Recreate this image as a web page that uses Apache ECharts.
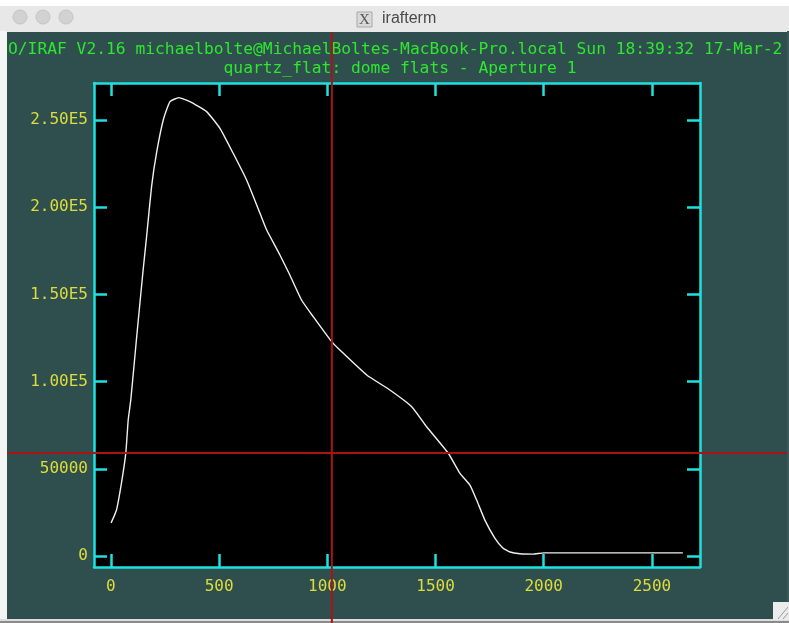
<!DOCTYPE html>
<html>
<head>
<meta charset="utf-8">
<title>irafterm</title>
<script src="https://cdn.jsdelivr.net/npm/echarts@6/dist/echarts.min.js"></script>
<style>
  html, body { margin: 0; padding: 0; background: #ffffff; }
  #chart { width: 789px; height: 623px; }
</style>
</head>
<body>
<div id="chart"></div>
<script>
// Extracted aperture 1 of the quartz dome flat: pixel vs. counts
const pixels = [1, 26, 49, 69, 80, 92, 120, 149, 165, 188, 211, 242, 273, 314, 365, 442,
  504, 565, 627, 689, 720, 781, 827, 881, 935, 1020, 1058, 1182, 1289, 1390, 1459, 1559,
  1613, 1659, 1690, 1728, 1774, 1811, 1844, 1890, 1950, 2000, 2643];
const counts = [19000, 26400, 41900, 59100, 78000, 89500, 126700, 164000, 183100, 211800,
  231100, 250000, 260500, 262800, 260500, 254800, 245200, 230900, 215600, 196500, 186900,
  172600, 161100, 146800, 137200, 122900, 118100, 103800, 95200, 85600, 74100, 58900,
  47400, 40700, 32100, 20600, 10300, 4600, 2300, 1300, 1100, 1800, 1800];

// Axis ticks and their labels
const xTicks = [0, 500, 1000, 1500, 2000, 2500];
const xTickLabels = ['0', '500', '1000', '1500', '2000', '2500'];
const yTicks = [0, 50000, 100000, 150000, 200000, 250000];
const yTickLabels = ['0', '50000', '1.00E5', '1.50E5', '2.00E5', '2.50E5'];

// Plot window limits (autoscaled with margins)
const xLimits = [-78, 2722];
const yLimits = [-6300, 271200];

// Graphics cursor position
const cursor = [1021, 59060];

const headerLine = 'O/IRAF V2.16 michaelbolte@MichaelBoltes-MacBook-Pro.local Sun 18:39:32 17-Mar-2';
const plotTitle = 'quartz_flat: dome flats - Aperture 1';
const windowTitle = 'irafterm';

const CYAN = '#1fe0e0';
const YELLOW = '#dcdc3c';
const GREEN = '#2ee62e';
const TEAL = '#2f4f4f';
const MONO = '"DejaVu Sans Mono", monospace';

const chart = echarts.init(document.getElementById('chart'), null, { renderer: 'canvas' });

const labelFmt = (ticks, labels) => (v) => {
  const i = ticks.indexOf(v);
  return i >= 0 ? labels[i] : '';
};

function frameAxis(extra) {
  return Object.assign({
    type: 'value',
    splitLine: { show: false },
    axisLine: { show: true, onZero: false, lineStyle: { color: CYAN, width: 2.5 } },
    axisTick: { show: true, inside: true, length: 13, lineStyle: { color: CYAN, width: 2.5 } },
  }, extra);
}

const pairs = pixels.map((p, i) => [p, counts[i]]);

chart.setOption({
  backgroundColor: TEAL,
  animation: false,
  grid: {
    left: 94, right: 89, top: 83, bottom: 56,
    show: true, backgroundColor: '#000000', borderWidth: 0
  },
  xAxis: [
    frameAxis({
      position: 'bottom', min: xLimits[0], max: xLimits[1],
      axisTick: { show: true, inside: true, length: 13, customValues: xTicks, lineStyle: { color: CYAN, width: 2.5 } },
      axisLabel: {
        customValues: xTicks, formatter: labelFmt(xTicks, xTickLabels),
        color: YELLOW, fontFamily: MONO, fontSize: 16, margin: 12
      }
    }),
    frameAxis({
      position: 'top', min: xLimits[0], max: xLimits[1],
      axisTick: { show: true, inside: true, length: 13, customValues: xTicks, lineStyle: { color: CYAN, width: 2.5 } },
      axisLabel: { show: false }
    })
  ],
  yAxis: [
    frameAxis({
      position: 'left', min: yLimits[0], max: yLimits[1],
      axisTick: { show: true, inside: true, length: 13, customValues: yTicks, lineStyle: { color: CYAN, width: 2.5 } },
      axisLabel: {
        customValues: yTicks, formatter: labelFmt(yTicks, yTickLabels),
        color: YELLOW, fontFamily: MONO, fontSize: 16, margin: 6
      }
    }),
    frameAxis({
      position: 'right', min: yLimits[0], max: yLimits[1],
      axisTick: { show: true, inside: true, length: 13, customValues: yTicks, lineStyle: { color: CYAN, width: 2.5 } },
      axisLabel: { show: false }
    })
  ],
  series: [{
    type: 'line',
    xAxisIndex: 0, yAxisIndex: 0,
    data: pairs,
    showSymbol: false,
    smooth: 0.15,
    lineStyle: { color: '#f0f0f0', width: 1.4 },
    z: 3
  }],
  graphic: [
    // window frame: white edges, title bar, bottom status strip
    { type: 'rect', id: 'topWhite', shape: { x: 0, y: 0, width: 789, height: 31 }, style: { fill: '#ffffff' }, silent: true },
    { type: 'rect', id: 'titleBar', shape: { x: 0, y: 6, width: 789, height: 26 }, style: { fill: '#e8e8e8' }, silent: true },
    { type: 'rect', id: 'leftEdge', shape: { x: 0, y: 31, width: 7, height: 592 }, style: { fill: '#f4f4f4' }, silent: true },
    { type: 'rect', id: 'rightEdge', shape: { x: 787, y: 31, width: 2, height: 592 }, style: { fill: '#3d5a5a' }, silent: true },
    { type: 'rect', id: 'bottomStrip', shape: { x: 0, y: 619, width: 789, height: 4 }, style: { fill: '#dcdcdc' }, silent: true },
    { type: 'rect', id: 'bottomShade', shape: { x: 0, y: 621, width: 789, height: 2 }, style: { fill: '#8a8a8a' }, silent: true },
    { type: 'circle', id: 'btn1', shape: { cx: 20, cy: 17, r: 7 }, style: { fill: '#d2d2d2', stroke: '#c4c4c4', lineWidth: 1 }, silent: true },
    { type: 'circle', id: 'btn2', shape: { cx: 43, cy: 17, r: 7 }, style: { fill: '#d2d2d2', stroke: '#c4c4c4', lineWidth: 1 }, silent: true },
    { type: 'circle', id: 'btn3', shape: { cx: 66, cy: 17, r: 7 }, style: { fill: '#d2d2d2', stroke: '#c4c4c4', lineWidth: 1 }, silent: true },
    { type: 'rect', id: 'xIcon', shape: { x: 357, y: 12, width: 15, height: 15 }, style: { fill: '#dadada', stroke: '#a8a8a8', lineWidth: 1 }, silent: true },
    { type: 'text', id: 'xIconGlyph', style: { x: 364.5, y: 20, text: 'X', fill: '#555555', font: '15px "Liberation Serif", serif', align: 'center', verticalAlign: 'middle' }, silent: true },
    { type: 'text', id: 'winTitle', style: { x: 382, y: 19, text: windowTitle, fill: '#4a4a4a', font: '16px "Liberation Sans", Arial, sans-serif', align: 'left', verticalAlign: 'middle' }, silent: true },
    // resize grip
    { type: 'rect', id: 'grip', shape: { x: 773, y: 602, width: 16, height: 18 }, style: { fill: '#ececec' }, silent: true },
    { type: 'line', id: 'grip1', shape: { x1: 778, y1: 619, x2: 788, y2: 607 }, style: { stroke: '#9a9a9a', lineWidth: 1 }, silent: true },
    { type: 'line', id: 'grip2', shape: { x1: 783, y1: 619, x2: 788, y2: 613 }, style: { stroke: '#9a9a9a', lineWidth: 1 }, silent: true },
    // plot header lines
    { type: 'text', id: 'header', style: { x: 8, y: 50, text: headerLine, fill: GREEN, font: '16.3px ' + MONO, align: 'left', verticalAlign: 'middle' }, silent: true, z: 5 },
    { type: 'text', id: 'ptitle', style: { x: 400, y: 69, text: plotTitle, fill: GREEN, font: '16.3px ' + MONO, align: 'center', verticalAlign: 'middle' }, silent: true, z: 5 }
  ]
});

// crosshair cursor across the terminal window
const cp = chart.convertToPixel({ xAxisIndex: 0, yAxisIndex: 0 }, cursor);
chart.setOption({
  graphic: [
    { type: 'line', id: 'curV', shape: { x1: cp[0], y1: 32, x2: cp[0], y2: 623 }, style: { stroke: '#a81414', lineWidth: 2 }, silent: true, z: 50 },
    { type: 'line', id: 'curH', shape: { x1: 7, y1: cp[1], x2: 787, y2: cp[1] }, style: { stroke: '#a81414', lineWidth: 2 }, silent: true, z: 50 }
  ]
});
</script>
</body>
</html>
